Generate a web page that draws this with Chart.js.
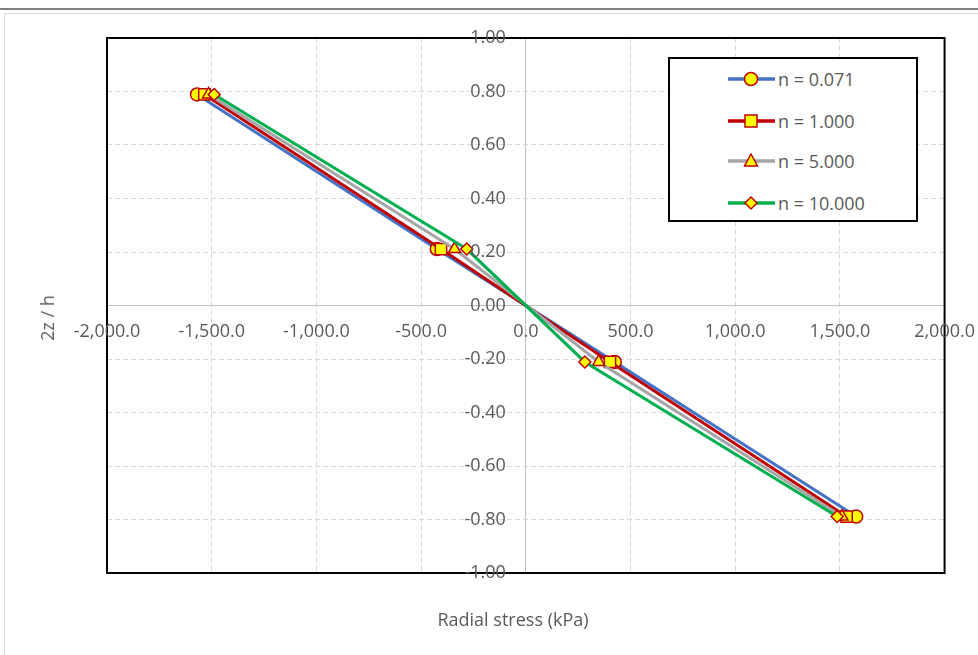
<!DOCTYPE html>
<html>
<head>
<meta charset="utf-8">
<script src="https://cdn.jsdelivr.net/npm/chart.js@4.4.1/dist/chart.umd.min.js"></script>
<style>
  html, body { margin: 0; padding: 0; background: #fff; }
  body { width: 978px; height: 655px; position: relative; overflow: hidden; font-family: "Open Sans", sans-serif; color: #595959; }
  #topline { position: absolute; left: 0; top: 8px; width: 978px; height: 2px; background: #7f7f7f; }
  #frame { position: absolute; left: 4px; top: 13px; width: 990px; height: 660px; border: 1px solid #d9d9d9; }
  #chart { position: absolute; left: 0; top: 0; }
  #legend { position: absolute; left: 668px; top: 57px; width: 246px; height: 161px; border: 2px solid #000; background: #fff; }
  .row { position: absolute; left: 58px; height: 24px; display: flex; align-items: center; font-size: 18px; }
  .row svg { margin-right: 2px; }
  #xtitle { position: absolute; left: 0; width: 1026px; top: 607px; text-align: center; font-size: 18px; }
  #ytitle { position: absolute; left: 47px; top: 318px; font-size: 18px; transform: translate(-50%, -50%) rotate(-90deg); white-space: nowrap; }
</style>
</head>
<body>
<div id="topline"></div>
<div id="frame"></div>
<canvas id="chart" width="991" height="655"></canvas>
<div id="legend"></div>
<div id="xtitle">Radial stress (kPa)</div>
<div id="ytitle">2z / h</div>
<script>
// depth positions (2z/h) shared by all series
const depth = [0.789, 0.211, -0.211, -0.789];

// radial stress (kPa) per series
const n0071 = [-1570, -425, 425, 1578];
const n1000 = [-1535, -405, 402, 1532];
const n5000 = [-1515, -340, 348, 1510];
const n10000 = [-1488, -282, 282, 1487];

const seriesNames = ["n = 0.071", "n = 1.000", "n = 5.000", "n = 10.000"];
const seriesValues = [n0071, n1000, n5000, n10000];
const lineColors = ["#4472C4", "#C00000", "#A5A5A5", "#00B050"];
const markers = ["circle", "rect", "triangle", "rectRot"];
const markerSizes = [6.5, 8, 7, 6];

const xTicks = { min: -2000, max: 2000, step: 500 };
const yTicks = { min: -1, max: 1, step: 0.2 };

// later series drawn on top, like the original
const datasets = seriesValues.map((vals, i) => ({
  label: seriesNames[i],
  data: vals.map((v, k) => ({ x: v, y: depth[k] })),
  order: seriesValues.length - i,
  showLine: true,
  borderColor: lineColors[i],
  borderWidth: 3,
  pointStyle: markers[i],
  pointRadius: markerSizes[i],
  pointBackgroundColor: "#FFFF00",
  pointBorderColor: "#C00000",
  pointBorderWidth: 1.5
}));

const plotBorder = {
  id: "plotBorder",
  beforeDatasetsDraw(chart) {
    const { ctx, chartArea: a } = chart;
    ctx.save();
    ctx.strokeStyle = "#000";
    ctx.lineWidth = 2;
    ctx.strokeRect(a.left, a.top, a.right - a.left, a.bottom - a.top);
    ctx.restore();
  }
};

const tickFont = { family: "Open Sans", size: 18 };
const isZero = c => c.tick && Math.abs(c.tick.value) < 1e-9;

new Chart(document.getElementById("chart"), {
  type: "scatter",
  data: { datasets },
  plugins: [plotBorder],
  options: {
    responsive: false,
    animation: false,
    devicePixelRatio: 1,
    layout: { padding: { left: 107, right: 33, top: 38, bottom: 82 } },
    plugins: { legend: { display: false }, tooltip: { enabled: false } },
    scales: {
      x: {
        type: "linear",
        position: { y: 0 },
        min: xTicks.min,
        max: xTicks.max,
        grid: {
          drawTicks: false,
          color: c => isZero(c) ? "#BFBFBF" : "#D9D9D9",
          lineWidth: 1
        },
        border: { display: true, color: "#BFBFBF", width: 1, dash: c => isZero(c) ? [] : [5, 3] },
        ticks: {
          stepSize: xTicks.step,
          padding: 16,
          z: 1,
          color: "#595959",
          font: tickFont,
          maxRotation: 0,
          autoSkip: false,
          callback: v => v.toLocaleString("en-US", { minimumFractionDigits: 1, maximumFractionDigits: 1 })
        }
      },
      y: {
        type: "linear",
        position: { x: -95 },
        min: yTicks.min,
        max: yTicks.max,
        grid: {
          drawTicks: false,
          color: c => isZero(c) ? "#BFBFBF" : "#D9D9D9",
          lineWidth: 1
        },
        border: { display: false, dash: c => isZero(c) ? [] : [5, 3] },
        ticks: {
          stepSize: yTicks.step,
          padding: 0,
          z: 1,
          color: "#595959",
          font: tickFont,
          autoSkip: false,
          callback: v => (Math.abs(v) < 1e-9 ? 0 : v).toFixed(2)
        }
      }
    }
  }
});

// legend built from the same series lists
const legend = document.getElementById("legend");
const rowTops = [8, 50, 90, 132];
function markerSvg(i) {
  const f = 'fill="#FFFF00" stroke="#C00000" stroke-width="1.5"';
  if (markers[i] === "circle") return `<circle cx="23" cy="12" r="6.5" ${f}/>`;
  if (markers[i] === "rect") return `<rect x="17" y="6" width="12" height="12" ${f}/>`;
  if (markers[i] === "triangle") return `<polygon points="23,5 29.5,17 16.5,17" ${f}/>`;
  return `<polygon points="23,6 29,12 23,18 17,12" ${f}/>`;
}
seriesNames.forEach((name, i) => {
  const row = document.createElement("div");
  row.className = "row";
  row.style.top = rowTops[i] + "px";
  row.innerHTML = `
    <svg width="48" height="24"><line x1="0" y1="12" x2="47" y2="12" stroke="${lineColors[i]}" stroke-width="3.5"/>${markerSvg(i)}</svg>
    <span>${name}</span>
  `;
  legend.appendChild(row);
});
</script>
</body>
</html>
